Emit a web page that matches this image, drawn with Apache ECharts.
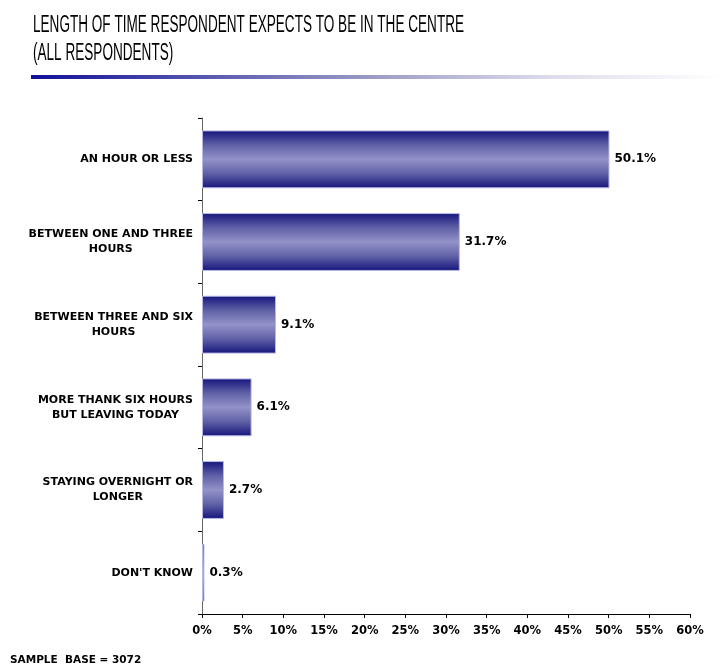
<!DOCTYPE html>
<html>
<head>
<meta charset="utf-8">
<script src="https://cdn.jsdelivr.net/npm/echarts@6/dist/echarts.min.js"></script>
<style>
  html, body { margin: 0; padding: 0; background: #fff; }
  #chart { width: 723px; height: 671px; }
</style>
</head>
<body>
<div id="chart"></div>
<script>
// Expected length of stay, all respondents
const categories = [
  'AN HOUR OR LESS',
  'BETWEEN ONE AND THREE\nHOURS',
  'BETWEEN THREE AND SIX\nHOURS',
  'MORE THANK SIX HOURS\nBUT LEAVING TODAY',
  'STAYING OVERNIGHT OR\nLONGER',
  "DON'T KNOW"
];
const shares = [50.1, 31.7, 9.1, 6.1, 2.7, 0.3];
const tickValues = [0, 5, 10, 15, 20, 25, 30, 35, 40, 45, 50, 55, 60];

const chart = echarts.init(document.getElementById('chart'));
const labelFamily = '"DejaVu Sans", Verdana, sans-serif';

chart.setOption({
  animation: false,
  backgroundColor: '#ffffff',
  graphic: [
    {
      type: 'text', x: 33, y: 12, scaleX: 0.59,
      style: {
        text: 'LENGTH OF TIME RESPONDENT EXPECTS TO BE IN THE CENTRE\n(ALL RESPONDENTS)',
        fontSize: 23, fontFamily: '"Liberation Sans", Arial, sans-serif',
        fill: '#000', lineHeight: 28
      }
    },
    {
      type: 'rect', shape: { x: 31, y: 75, width: 692, height: 4 },
      style: {
        fill: new echarts.graphic.LinearGradient(0, 0, 1, 0, [
          { offset: 0, color: '#10109a' },
          { offset: 0.45, color: '#9090c0' },
          { offset: 0.75, color: '#dcdcec' },
          { offset: 1, color: '#ffffff' }
        ])
      }
    },
    {
      type: 'text', x: 10, y: 655,
      style: { text: 'SAMPLE  BASE = 3072', fontSize: 10.5, fontWeight: 'bold', fontFamily: labelFamily, fill: '#000' }
    }
  ],
  grid: { left: 202, right: 33, top: 118, bottom: 57, containLabel: false },
  xAxis: {
    type: 'value', min: 0, max: 60, interval: 5,
    axisLine: { show: true, lineStyle: { color: '#000', width: 1 } },
    axisTick: { show: true, length: 4, lineStyle: { color: '#000' } },
    splitLine: { show: false },
    axisLabel: {
      formatter: v => (tickValues.includes(v) ? v + '%' : ''),
      fontSize: 11.5, fontWeight: 'bold', fontFamily: labelFamily, color: '#000', margin: 11
    }
  },
  yAxis: {
    type: 'category', data: categories, inverse: true,
    axisLine: { show: true, lineStyle: { color: '#666', width: 1 } },
    axisTick: { show: true, length: 4, lineStyle: { color: '#000' } },
    axisLabel: {
      margin: 9, align: 'right',
      formatter: v => v.split('\n').map(s => '{c|' + s + '}').join('\n'),
      rich: {
        c: {
          align: 'center', fontSize: 11, fontWeight: 'bold',
          fontFamily: labelFamily, color: '#000', lineHeight: 15
        }
      }
    }
  },
  series: [{
    type: 'bar',
    data: shares,
    barCategoryGap: '30%',
    itemStyle: {
      color: new echarts.graphic.LinearGradient(0, 0, 0, 1, [
        { offset: 0, color: '#15157c' },
        { offset: 0.25, color: '#5f5fa6' },
        { offset: 0.5, color: '#9393c9' },
        { offset: 0.75, color: '#5f5fa6' },
        { offset: 1, color: '#15157c' }
      ]),
      borderColor: '#b8b8e6', borderWidth: 1
    },
    label: {
      show: true, position: 'right', distance: 5,
      formatter: p => p.value.toFixed(1) + '%',
      fontSize: 12, fontWeight: 'bold', fontFamily: labelFamily, color: '#000'
    }
  }]
});
</script>
</body>
</html>
